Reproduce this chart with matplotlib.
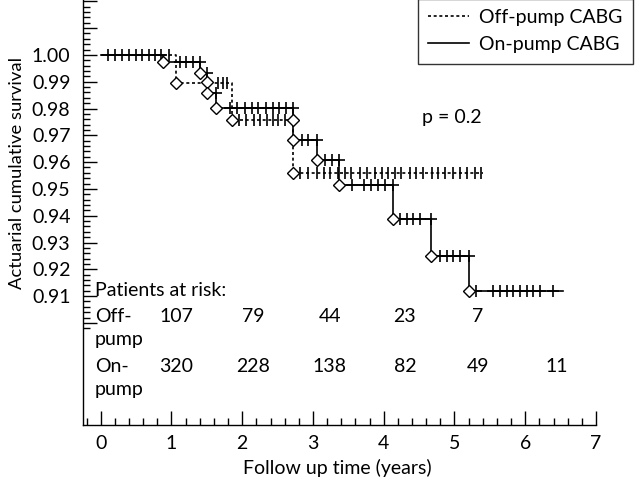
import numpy as np
import matplotlib
matplotlib.use("Agg")
import matplotlib.pyplot as plt
from matplotlib.ticker import FixedLocator

plt.rcParams['font.family'] = ['Lato', 'DejaVu Sans']

# ---- data ----
on_event_times = [0.88, 1.40, 1.50, 1.50, 1.63, 2.72, 2.72, 3.06, 3.37, 4.13, 4.67, 5.20]
on_event_levels = [0.9974, 0.9933, 0.9900, 0.9858, 0.9802, 0.9757, 0.9683, 0.9608, 0.9515, 0.9388, 0.9250, 0.9119]
on_end_time = 6.53
on_censor_times = [0.10, 0.20, 0.30, 0.40, 0.50, 0.59, 0.68, 0.77, 0.85,
                   1.12, 1.21, 1.30, 1.40, 1.50, 1.63,
                   1.83, 1.93, 2.04, 2.14, 2.23, 2.33, 2.43, 2.52, 2.62, 2.72,
                   2.84, 2.93, 3.06, 3.17, 3.27, 3.37,
                   3.55, 3.72, 3.82, 3.92, 4.02, 4.13,
                   4.23, 4.33, 4.42, 4.51, 4.67,
                   4.80, 4.90, 4.98, 5.08, 5.20,
                   5.30, 5.54, 5.64, 5.74, 5.83, 5.93, 6.03, 6.11, 6.21, 6.39]

off_event_times = [1.07, 1.85, 2.72]
off_event_levels = [0.9896, 0.9757, 0.9560]
off_end_time = 5.40
off_censor_times = [0.97, 1.66, 1.73, 1.79,
                    1.96, 2.06, 2.17, 2.25, 2.35, 2.43, 2.51, 2.60,
                    2.81, 2.93, 3.05, 3.15, 3.24, 3.36, 3.45, 3.54, 3.66, 3.76,
                    3.88, 3.97, 4.06, 4.16, 4.25, 4.37, 4.46, 4.56, 4.68, 4.77,
                    4.87, 4.98, 5.08, 5.17, 5.29, 5.38]

risk_times = [1.07, 2.16, 3.24, 4.30, 5.33, 6.45]
off_at_risk = ['107', '79', '44', '23', '7']
on_at_risk = ['320', '228', '138', '82', '49', '11']

y_ticks = [0.91, 0.92, 0.93, 0.94, 0.95, 0.96, 0.97, 0.98, 0.99, 1.00]
x_ticks = [0, 1, 2, 3, 4, 5, 6, 7]


def level_before(t, ev_t, ev_l):
    idx = np.searchsorted(np.array(ev_t), t, side='left')
    levels = np.concatenate([[1.0], ev_l])
    return levels[idx]


fig = plt.figure(figsize=(6.4, 4.84), dpi=100)
ax = fig.add_axes([83 / 640, 59 / 484, 513 / 640, 425 / 484])

FS = 14


def draw_curve(ev_t, ev_l, end_t, cens_t, ls, cmark, label):
    xs = [0.0] + list(ev_t) + [end_t]
    ys = [1.0] + list(ev_l) + [ev_l[-1]]
    ax.step(xs, ys, where='post', color='black', lw=1.2, ls=ls, label=label, zorder=2)
    cy = [level_before(t, ev_t, ev_l) for t in cens_t]
    ax.plot(cens_t, cy, ls='none', marker=cmark, ms=8.5, mew=1.2, color='black', zorder=3)
    ax.plot(ev_t, ev_l, ls='none', marker='D', ms=6.5, mfc='white', mec='black', mew=1.0, zorder=4)


draw_curve(off_event_times, off_event_levels, off_end_time, off_censor_times,
           (0, (1.8, 1.6)), '|', 'Off-pump CABG')
draw_curve(on_event_times, on_event_levels, on_end_time, on_censor_times,
           '-', '+', 'On-pump CABG')

ax.set_xlim(-0.25, 7.0)
ax.set_ylim(0.8619, 1.0205)

ax.spines['top'].set_visible(False)
ax.spines['right'].set_visible(False)
for s in ('left', 'bottom'):
    ax.spines[s].set_linewidth(1.0)

y_major = np.round(np.arange(0.90, 1.0201, 0.01), 3)
ax.xaxis.set_major_locator(FixedLocator(x_ticks))
ax.xaxis.set_minor_locator(FixedLocator(np.round(np.arange(-0.2, 7.01, 0.2), 3)))
ax.yaxis.set_major_locator(FixedLocator(y_major))
ax.yaxis.set_minor_locator(FixedLocator(np.round(np.arange(0.898, 1.0201, 0.002), 4)))
ax.set_yticklabels([f'{v:.2f}' if any(abs(v - t) < 1e-6 for t in y_ticks) else ''
                    for v in y_major])
ax.tick_params(axis='both', which='major', direction='in', length=10, width=1.0,
               labelsize=FS, pad=7)
ax.tick_params(axis='both', which='minor', direction='in', length=5, width=1.0,
               color='black')
ax.tick_params(axis='y', which='major', pad=9)

ax.set_xlabel('Follow up time (years)', fontsize=FS)
ax.xaxis.set_label_coords((337 - 83) / 513, (425 - 459) / 425)
ax.set_ylabel('Actuarial cumulative survival', fontsize=13.2)
ax.yaxis.set_label_coords((25 - 83) / 513, (425 - 173) / 425)

tr = ax.get_xaxis_transform()
rows = {'hdr': 291, 'off': 317, 'off2': 339, 'on': 366, 'on2': 389}
ax.text(-0.08, (425 - rows['hdr']) / 425, 'Patients at risk:', transform=tr, fontsize=FS,
        ha='left', va='center')
ax.text(-0.08, (425 - rows['off']) / 425, 'Off-', transform=tr, fontsize=FS, ha='left', va='center')
ax.text(-0.08, (425 - rows['off2']) / 425, 'pump', transform=tr, fontsize=FS, ha='left', va='center')
ax.text(-0.08, (425 - rows['on']) / 425, 'On-', transform=tr, fontsize=FS, ha='left', va='center')
ax.text(-0.08, (425 - rows['on2']) / 425, 'pump', transform=tr, fontsize=FS, ha='left', va='center')
for t, n in zip(risk_times, off_at_risk):
    ax.text(t, (425 - rows['off']) / 425, n, transform=tr, fontsize=FS, ha='center', va='center')
for t, n in zip(risk_times, on_at_risk):
    ax.text(t, (425 - rows['on']) / 425, n, transform=tr, fontsize=FS, ha='center', va='center')

ax.text(4.96, (425 - 118) / 425, 'p = 0.2', transform=tr, fontsize=FS, ha='center', va='center')

leg = fig.legend(loc='upper right', bbox_to_anchor=(633 / 640, 1.003), fontsize=FS,
                 frameon=True, fancybox=False, edgecolor='black', handlelength=2.1,
                 handletextpad=0.5, labelspacing=0.5, borderpad=0.55, borderaxespad=0)
leg.get_frame().set_linewidth(1.0)

fig.savefig('out.png', dpi=100)
